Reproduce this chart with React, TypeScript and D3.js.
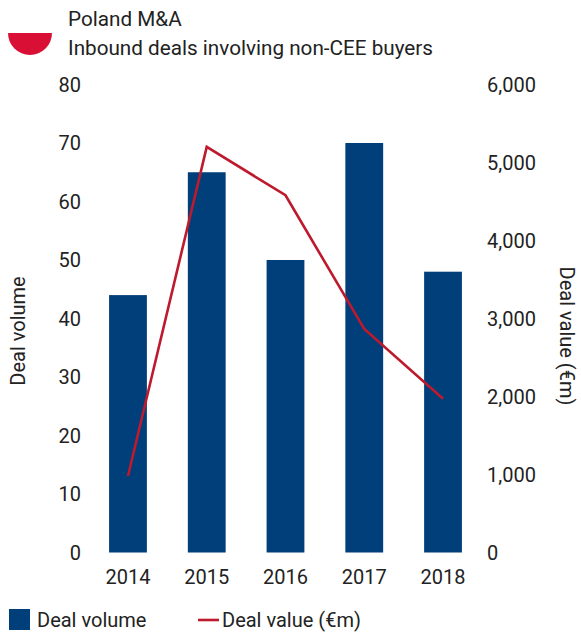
import React from "react";
import * as d3 from "d3";

const years = ["2014", "2015", "2016", "2017", "2018"];
const dealVolume = [44, 65, 50, 70, 48];
const dealValue = [980, 5200, 4580, 2865, 1970];
const leftTicks = [0, 10, 20, 30, 40, 50, 60, 70, 80];
const rightTicks = [0, 1000, 2000, 3000, 4000, 5000, 6000];

const W = 581;
const H = 634;
const FONT = "Roboto, 'Noto Sans', sans-serif";
const TEXT = "#222";
const BLUE = "#013f7a";
const RED = "#bd1a2d";
const FLAG = "#d90f35";
const FS = 20;

export default function App() {
  const x = d3.scaleBand<string>().domain(years).range([88.6, 482.4]).paddingInner(0.52).paddingOuter(0.26);
  const yL = d3.scaleLinear().domain([0, 80]).range([552.5, 84.5]);
  const yR = d3.scaleLinear().domain([0, 6000]).range([552.5, 84.5]);
  const line = d3
    .line<number>()
    .x((_, i) => (x(years[i]) as number) + x.bandwidth() / 2)
    .y((d) => yR(d));
  const fmt = d3.format(",");
  const arc = d3.arc()({ innerRadius: 0, outerRadius: 22, startAngle: Math.PI / 2, endAngle: (3 * Math.PI) / 2 }) as string;

  return (
    <svg width={W} height={H} style={{ position: "absolute", left: 0, top: 0 }} fontFamily={FONT}>
      <rect width={W} height={H} fill="#fff" />
      <path d={arc} transform="translate(30,33)" fill={FLAG} />
      <text x={68} y={26} fontSize={20.7} fill={TEXT}>Poland M&amp;A</text>
      <text x={68} y={55} fontSize={20.7} fill={TEXT}>Inbound deals involving non-CEE buyers</text>

      {years.map((yr, i) => (
        <rect
          key={yr}
          x={x(yr)}
          y={yL(dealVolume[i])}
          width={x.bandwidth()}
          height={yL(0) - yL(dealVolume[i])}
          fill={BLUE}
        />
      ))}
      <path d={line(dealValue) as string} fill="none" stroke={RED} strokeWidth={2.6} />

      {leftTicks.map((t) => (
        <text key={t} x={81} y={yL(t)} dy="0.36em" textAnchor="end" fontSize={FS} fill={TEXT}>
          {t}
        </text>
      ))}
      {rightTicks.map((t) => (
        <text key={t} x={487} y={yR(t)} dy="0.36em" textAnchor="start" fontSize={FS} fill={TEXT}>
          {fmt(t)}
        </text>
      ))}
      {years.map((yr) => (
        <text key={yr} x={(x(yr) as number) + x.bandwidth() / 2} y={584} textAnchor="middle" fontSize={FS} fill={TEXT}>
          {yr}
        </text>
      ))}

      <text transform="translate(25,331) rotate(-90)" textAnchor="middle" fontSize={FS} fill={TEXT}>
        Deal volume
      </text>
      <text transform="translate(560,336) rotate(90)" textAnchor="middle" fontSize={FS} fill={TEXT}>
        Deal value (€m)
      </text>

      <rect x={9} y={609} width={21} height={21} fill={BLUE} />
      <text x={37} y={627} fontSize={FS} fill={TEXT}>Deal volume</text>
      <line x1={198} x2={219} y1={620} y2={620} stroke={RED} strokeWidth={2.6} />
      <text x={222} y={627} fontSize={FS} fill={TEXT}>Deal value (€m)</text>
    </svg>
  );
}
